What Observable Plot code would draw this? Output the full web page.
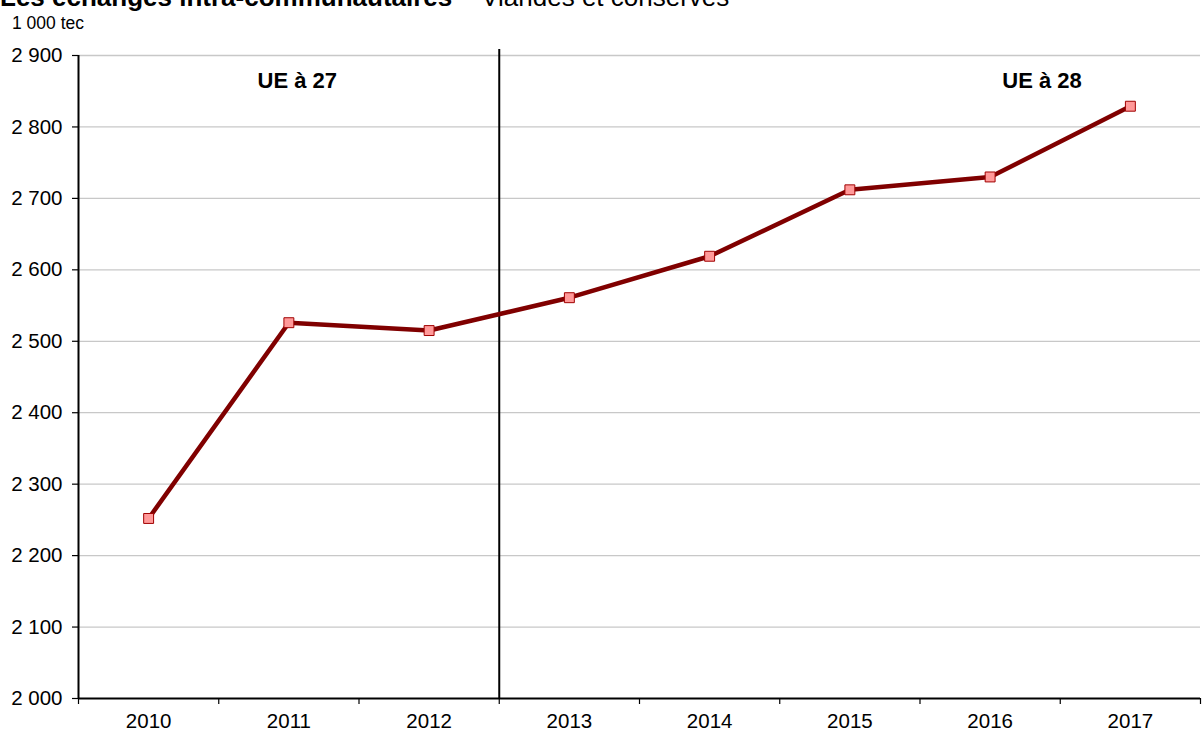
<!DOCTYPE html>
<html>
<head>
<meta charset="utf-8">
<script src="https://cdn.jsdelivr.net/npm/d3@7"></script>
<script src="https://cdn.jsdelivr.net/npm/@observablehq/plot@0.6"></script>
<style>
  html, body { margin: 0; padding: 0; background: #fff; overflow: hidden; }
  #wrap { position: relative; width: 1202px; height: 731px; font-family: "Liberation Sans", Arial, sans-serif; }
  #title { position: absolute; left: 0; top: -16px; font-size: 26px; line-height: 26px; white-space: pre; color: #000; }
  #title b { font-weight: bold; }
  #unit { position: absolute; left: 12px; top: 13px; font-size: 17.5px; line-height: 20px; color: #000; }
  #chart { position: absolute; left: 0; top: 0; }
</style>
</head>
<body>
<div id="wrap">
  <div id="chart"></div>
  <div id="title"><b>Les échanges intra-communautaires</b> – Viandes et conserves</div>
  <div id="unit">1 000 tec</div>
</div>
<script>
// Data
const years = [2010, 2011, 2012, 2013, 2014, 2015, 2016, 2017];
const values = [2252, 2526, 2515, 2561, 2619, 2712, 2730, 2829];
const yTicks = [2000, 2100, 2200, 2300, 2400, 2500, 2600, 2700, 2800, 2900];
const periodBreak = 2012.5; // UE à 27 -> UE à 28
const annotLabels = ["UE à 27", "UE à 28"];
const annotX = [2011.06, 2016.37];
const annotY = [2864, 2864];

const data = years.map((y, i) => ({year: y, value: values[i]}));
const bounds = [years[0] - 0.5, ...years.map(y => y + 0.5)];
const annots = annotLabels.map((t, i) => ({text: t, x: annotX[i], y: annotY[i]}));
const fmt = d => d3.format(",")(d).replace(/,/g, " ");

const chart = Plot.plot({
  width: 1202,
  height: 731,
  marginLeft: 78,
  marginRight: 2,
  marginTop: 55,
  marginBottom: 33,
  style: {fontFamily: "Liberation Sans, Arial, sans-serif", fontSize: "20px", color: "#000", background: "#fff", overflow: "visible"},
  x: {type: "linear", domain: [bounds[0], bounds[bounds.length - 1]]},
  y: {domain: [yTicks[0], yTicks[yTicks.length - 1]]},
  marks: [
    Plot.ruleY(yTicks.slice(1), {stroke: "#c8c8c8", strokeWidth: 1.3}),
    Plot.axisY({ticks: yTicks, tickSize: 6, tickPadding: 10, tickFormat: fmt, label: null, stroke: "#000", strokeWidth: 1.2, fontSize: 20.5}),
    Plot.axisX({ticks: years, tickSize: 0, tickPadding: 15, tickFormat: d => String(d), label: null, fontSize: 20.5}),
    Plot.axisX({ticks: bounds, tickSize: 6, tickFormat: () => "", label: null, stroke: "#000", strokeWidth: 1.2}),
    Plot.ruleX([bounds[0]], {stroke: "#000", strokeWidth: 2}),
    Plot.ruleY([yTicks[0]], {stroke: "#000", strokeWidth: 2}),
    Plot.ruleX([periodBreak], {y1: yTicks[yTicks.length - 1], y2: yTicks[0], insetTop: -6, insetBottom: 0, stroke: "#000", strokeWidth: 2}),
    Plot.line(data, {x: "year", y: "value", stroke: "#800000", strokeWidth: 4.5}),
    Plot.dot(data, {x: "year", y: "value", symbol: "square", r: 5.6, fill: "#ff9999", stroke: "#a00000", strokeWidth: 1}),
    Plot.text(annots, {x: "x", y: "y", text: "text", fontSize: 22, fontWeight: "bold", fill: "#000"})
  ]
});
document.getElementById("chart").appendChild(chart);
</script>
</body>
</html>
